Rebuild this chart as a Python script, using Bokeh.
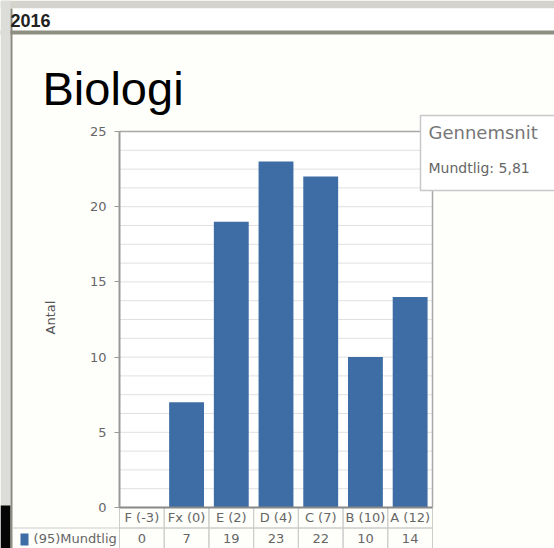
import math
from bokeh.plotting import figure
from bokeh.models import Range1d, FixedTicker, Label, BoxAnnotation, LinearAxis
from bokeh.core.properties import value
from bokeh.embed import file_html
from bokeh.resources import INLINE

# ---------------- data ----------------
year = "2016"
subject = "Biologi"
categories = ["F (-3)", "Fx (0)", "E (2)", "D (4)", "C (7)", "B (10)", "A (12)"]
counts = [0, 7, 19, 23, 22, 10, 14]
series_label = "(95)Mundtlig"
y_ticks = [0, 5, 10, 15, 20, 25]
y_axis_label = "Antal"
avg_title = "Gennemsnit"
avg_text = "Mundtlig: 5,81"

# ---------------- layout constants (canvas pixels) ----------------
W, H = 554, 548
PLOT_L, PLOT_R = 119, 432          # chart area left/right
Y0_PX, YTOP_PX = 507, 131          # pixel rows of value 0 and of the top value
Y_MAX = y_ticks[-1]
n = len(categories)
band_px = (PLOT_R - PLOT_L) / n
ppu = (Y0_PX - YTOP_PX) / Y_MAX
x_range = Range1d(-PLOT_L / band_px, (W - PLOT_L) / band_px)
y_range = Range1d(-(H - Y0_PX) / ppu, Y_MAX + YTOP_PX / ppu)
row_split = -20.5 / ppu
y_bottom = y_range.start
row1_c = row_split / 2
row2_c = (row_split + y_bottom) / 2
legend_left = -(PLOT_L - 12) / band_px

SMALL = value("DejaVu Sans")
BAR = "#3d6da4"
xs = [i + 0.5 for i in range(n)]

p = figure(x_range=x_range, y_range=y_range, width=W, height=H,
           output_backend="svg", toolbar_location=None,
           x_axis_location=None, y_axis_location=None,
           min_border=0, min_border_left=0, min_border_right=0,
           min_border_top=0, min_border_bottom=0)
p.title.visible = False
p.outline_line_color = None
p.background_fill_color = "#fefefb"
p.border_fill_color = "#fefefb"
p.xgrid.visible = False
p.ygrid.visible = False

def canvas_box(l, r, t, b, color, **kw):
    return BoxAnnotation(left=l, right=r, top=t, bottom=b, left_units="canvas",
                         right_units="canvas", top_units="canvas", bottom_units="canvas",
                         fill_color=color, fill_alpha=1, line_color=None, level="underlay", **kw)

# page chrome
p.add_layout(canvas_box(0, W, 0, 8, "#d4d4cc"))
p.add_layout(canvas_box(0, W, 8, 31, "#ffffff"))
p.add_layout(canvas_box(0, W, 30, 34, "#8e8f82"))
p.add_layout(canvas_box(0, 10, 0, H, "#dcdcd8"))
p.add_layout(canvas_box(0, 10, 505, H, "#050505"))
p.add_layout(canvas_box(10, 12, 8, H, "#8c8c80"))
p.add_layout(canvas_box(PLOT_L, PLOT_R, YTOP_PX, Y0_PX, "#ffffff"))

# minor grid (every quarter of a tick interval)
grid_vals = [i * Y_MAX / 20 for i in range(21)]
p.segment(x0=0, x1=n, y0=grid_vals, y1=grid_vals, line_color="#e0e0e0", line_width=1)

# bars
p.vbar(x=xs, top=counts, width=0.78, fill_color=BAR, line_color=None)

# frame edges
p.segment(x0=[0, n], x1=[n, n], y0=[Y_MAX, 0], y1=[Y_MAX, Y_MAX], line_color="#a8a8a8", line_width=1.5)

# table below the chart
p.rect(x=xs, y=row1_c, width=1, height=-row_split, fill_color=None, line_color="#cccccc")
p.rect(x=xs, y=row2_c, width=1, height=row_split - y_bottom, fill_color=None, line_color="#cccccc")
p.segment(x0=legend_left, x1=0, y0=row_split, y1=row_split, line_color="#cccccc")
p.segment(x0=0, x1=n, y0=0, y1=0, line_color="#888888", line_width=2)
p.text(x=xs, y=row1_c, text=categories, text_align="center", text_baseline="middle",
       text_font=SMALL, text_font_size="13px", text_color="#666666")
p.text(x=xs, y=row2_c, text=[str(v) for v in counts], text_align="center",
       text_baseline="middle", text_font=SMALL, text_font_size="13px", text_color="#666666")
p.add_layout(Label(x=-0.06, y=row2_c, text=series_label,
                   text_align="right", text_baseline="middle", text_font="DejaVu Sans",
                   text_font_size="13px", text_color="#666666"))
p.add_layout(BoxAnnotation(left=20, right=28, top=533, bottom=545, left_units="canvas",
                           right_units="canvas", top_units="canvas", bottom_units="canvas",
                           fill_color=BAR, fill_alpha=1, line_color=None))

# y axis drawn at x = 0
ya = LinearAxis(fixed_location=0, ticker=FixedTicker(ticks=y_ticks), bounds=(0, Y_MAX))
ya.axis_line_color = "#999999"
ya.axis_line_width = 2
ya.major_tick_out = 5
ya.major_tick_in = 0
ya.major_tick_line_color = "#999999"
ya.minor_tick_line_color = None
ya.major_label_text_font = "DejaVu Sans"
ya.major_label_text_font_size = "13px"
ya.major_label_text_color = "#666666"
ya.major_label_standoff = 8
p.add_layout(ya, "left")

p.add_layout(Label(x=50, y=317, x_units="canvas", y_units="canvas", text=y_axis_label,
                   angle=math.pi / 2, text_align="center", text_baseline="middle",
                   text_font="DejaVu Sans", text_font_size="13px", text_color="#555555"))

# headings
p.add_layout(Label(x=10, y=20, x_units="canvas", y_units="canvas", text=year,
                   text_font="Liberation Sans", text_font_style="bold", text_font_size="18px",
                   text_color="#222222", text_baseline="alphabetic"))
p.add_layout(Label(x=42, y=88, x_units="canvas", y_units="canvas", text=subject,
                   text_font="Liberation Sans", text_font_size="47px",
                   text_color="#000000", text_baseline="alphabetic"))

# average box
p.add_layout(BoxAnnotation(left=420, right=W + 20, top=115, bottom=190, left_units="canvas",
                           right_units="canvas", top_units="canvas", bottom_units="canvas",
                           fill_color="white", fill_alpha=1, line_color="#c8c8c8",
                           line_alpha=1, line_width=1.5))
p.add_layout(Label(x=428, y=132, x_units="canvas", y_units="canvas", text=avg_title,
                   text_font="DejaVu Sans", text_font_size="18px", text_color="#777777",
                   text_baseline="alphabetic"))
p.add_layout(Label(x=428, y=167, x_units="canvas", y_units="canvas", text=avg_text,
                   text_font="DejaVu Sans", text_font_size="14px", text_color="#666666",
                   text_baseline="alphabetic"))

open("out.html", "w").write(file_html(p, INLINE))
